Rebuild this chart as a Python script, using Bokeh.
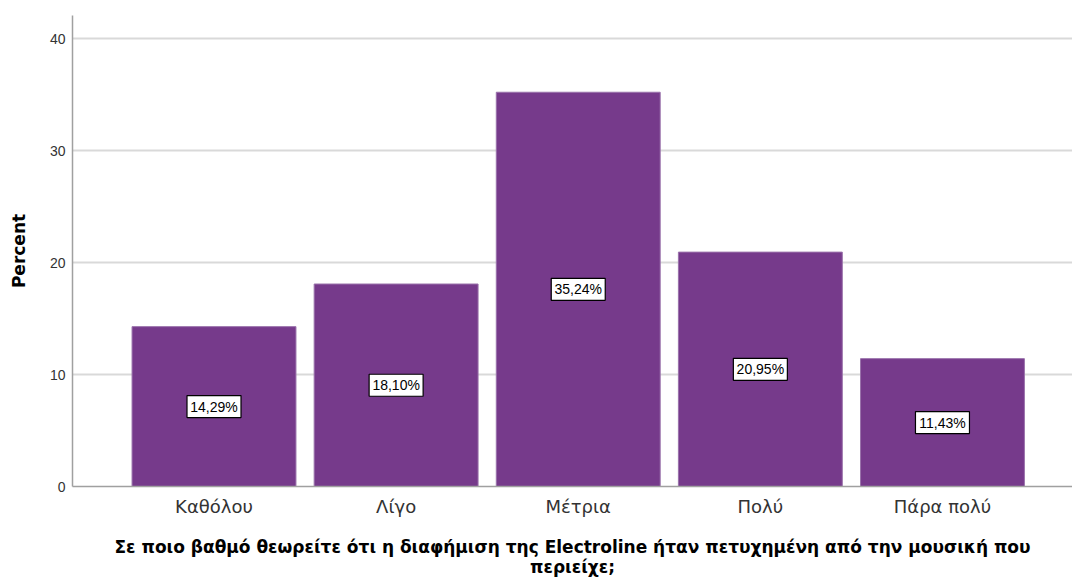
from bokeh.plotting import figure
from bokeh.models import Range1d, FixedTicker, ColumnDataSource
from bokeh.core.properties import value
from bokeh.embed import file_html
from bokeh.resources import INLINE

categories = ["Καθόλου", "Λίγο", "Μέτρια", "Πολύ", "Πάρα πολύ"]
percent = [14.29, 18.10, 35.24, 20.95, 11.43]
y_ticks = [0, 10, 20, 30, 40]

x_title = "Σε ποιο βαθμό θεωρείτε ότι η διαφήμιση της Electroline ήταν πετυχημένη από την μουσική που\nπεριείχε;"
y_title = "Percent"

FONT = "Liberation Sans"
WIDE = "DejaVu Sans"
BAR = "#763a8b"

xs = list(range(len(categories)))
labels = [f"{v:.2f}".replace(".", ",") + "%" for v in percent]
mids = [v / 2 for v in percent]
src = ColumnDataSource(dict(x=xs, pct=percent, mid=mids, label=labels))

p = figure(width=1072, height=579,
           x_range=Range1d(-0.777, 4.714), y_range=Range1d(0, 42.1),
           output_backend="svg", toolbar_location=None,
           min_border_left=72, min_border_right=0, min_border_top=15, min_border_bottom=93)
p.outline_line_color = None
p.background_fill_color = "white"
p.border_fill_color = "white"

p.vbar(x="x", top="pct", width=0.9, source=src, fill_color=BAR, line_color="#9a72ab", line_width=1)

# value label boxes
p.rect(x="x", y="mid", width=54, height=22, width_units="screen", height_units="screen",
       source=src, fill_color="white", line_color="black", line_width=1.2)
p.text(x="x", y="mid", text="label", source=src, text_align="center", text_baseline="middle",
       text_font=value(FONT), text_font_size="14px", text_color="black")

# grid
p.xgrid.visible = False
p.ygrid.ticker = FixedTicker(ticks=y_ticks)
p.ygrid.grid_line_color = "#d9d9d9"
p.ygrid.grid_line_width = 2

# y axis
p.yaxis.ticker = FixedTicker(ticks=y_ticks)
p.yaxis.axis_line_color = "#a0a0a0"
p.yaxis.axis_line_width = 1.5
p.yaxis.major_tick_line_color = None
p.yaxis.minor_tick_line_color = None
p.yaxis.major_tick_out = 0
p.yaxis.major_tick_in = 0
p.yaxis.major_label_standoff = 7
p.yaxis.major_label_text_font = FONT
p.yaxis.major_label_text_font_size = "14px"
p.yaxis.major_label_text_color = "#333333"
p.yaxis.axis_label = y_title
p.yaxis.axis_label_text_font = WIDE
p.yaxis.axis_label_text_font_size = "17px"
p.yaxis.axis_label_text_font_style = "bold"
p.yaxis.axis_label_text_color = "black"
p.yaxis.axis_label_standoff = 18

# x axis
p.xaxis.ticker = FixedTicker(ticks=xs)
p.xaxis.major_label_overrides = {i: c for i, c in zip(xs, categories)}
p.xaxis.axis_line_color = "#a0a0a0"
p.xaxis.axis_line_width = 1.5
p.xaxis.major_tick_line_color = None
p.xaxis.minor_tick_line_color = None
p.xaxis.major_tick_out = 0
p.xaxis.major_tick_in = 0
p.xaxis.major_label_standoff = 9
p.xaxis.major_label_text_font = WIDE
p.xaxis.major_label_text_font_size = "18px"
p.xaxis.major_label_text_color = "#333333"
p.xaxis.axis_label = x_title
p.xaxis.axis_label_text_font = WIDE
p.xaxis.axis_label_text_font_size = "17px"
p.xaxis.axis_label_text_font_style = "bold"
p.xaxis.axis_label_text_line_height = 1.0
p.xaxis.axis_label_text_color = "black"
p.xaxis.axis_label_standoff = 17

open("out.html", "w").write(file_html(p, INLINE))
